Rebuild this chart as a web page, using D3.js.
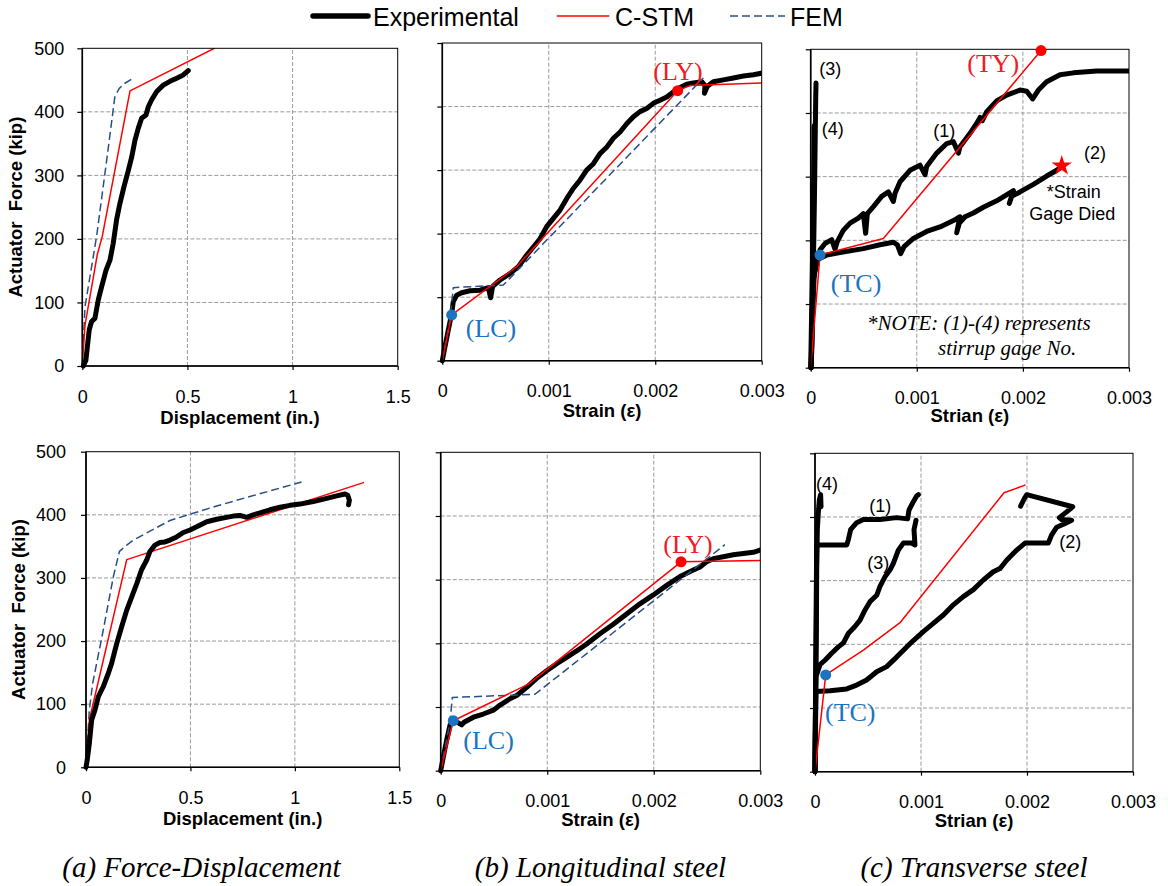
<!DOCTYPE html>
<html><head><meta charset="utf-8">
<script src="https://cdn.jsdelivr.net/npm/d3@7"></script>
<style>body{margin:0;background:#fff}</style>
</head><body>
<svg id="c" width="1168" height="886"></svg>
<script>
// ---------------- DATA ----------------
const yTickVals = [0,100,200,300,400,500];
const yTickText = ["0","100","200","300","400","500"];
const dispTickVals = [0,0.5,1,1.5];
const dispTickText = ["0","0.5","1","1.5"];
const strainTickVals = [0,0.001,0.002,0.003];
const strainTickText = ["0","0.001","0.002","0.003"];
const legendLabels = ["Experimental","C-STM","FEM"];
const captions = ["(a) Force-Displacement","(b) Longitudinal steel","(c) Transverse steel"];

// (a) Force-displacement, top specimen
const dispTopExp = [[0.005,0],[0.017,9],[0.024,30],[0.033,57],[0.044,70],[0.06,75],[0.076,104],[0.092,125],[0.113,151],[0.132,167],[0.147,193],[0.163,230],[0.179,256],[0.198,282],[0.219,308],[0.235,329],[0.251,356],[0.266,374],[0.282,390],[0.303,395],[0.314,408],[0.33,419],[0.354,432],[0.385,442],[0.417,448],[0.449,453],[0.48,458],[0.504,465]];
const dispTopCSTM = [[0,0],[0.0127,64],[0.071,175],[0.095,204],[0.227,433],[0.628,500]];
const dispTopFEM = [[0,0],[0.0127,93],[0.068,204],[0.116,324],[0.155,424],[0.176,437],[0.203,445],[0.246,454]];
// (a) bottom specimen
const dispBotExp = [[0,0],[0.006,12],[0.016,38],[0.027,75],[0.043,91],[0.059,112],[0.083,128],[0.107,149],[0.123,165],[0.147,196],[0.171,223],[0.195,249],[0.219,270],[0.243,291],[0.266,313],[0.29,328],[0.306,342],[0.33,352],[0.354,356],[0.378,357],[0.402,360],[0.434,365],[0.466,372],[0.498,376],[0.53,381],[0.578,389],[0.626,393],[0.673,396],[0.705,398],[0.737,399],[0.769,396],[0.801,400],[0.833,403],[0.881,408],[0.929,412],[0.977,415],[1.024,417],[1.088,421],[1.152,426],[1.2,430],[1.24,433],[1.253,431],[1.261,423],[1.257,416]];
const dispBotCSTM = [[0,0],[0.016,75],[0.195,329],[1.328,451]];
const dispBotFEM = [[0,0],[0.016,91],[0.032,133],[0.083,218],[0.131,302],[0.16,342],[0.195,352],[0.227,360],[0.322,377],[0.402,391],[0.498,401],[0.626,414],[0.785,429],[1.032,452]];

// (b) Longitudinal steel, top
const longTopExp = [[0,0],[0.000025,22],[0.000056,48],[0.000088,74],[0.000103,93],[0.000135,103],[0.000182,107],[0.00026,110],[0.000354,111],[0.000432,115],[0.000454,99],[0.000473,117],[0.000542,127],[0.000636,137],[0.000714,148],[0.000792,166],[0.000855,179],[0.000918,192],[0.00098,211],[0.001043,224],[0.001106,237],[0.001168,255],[0.00123,271],[0.001293,284],[0.001356,300],[0.001419,310],[0.001481,326],[0.001544,336],[0.001607,350],[0.00167,360],[0.001732,373],[0.001795,384],[0.001857,392],[0.00192,397],[0.001982,405],[0.002045,410],[0.002108,415],[0.00217,423],[0.002233,430],[0.002296,435],[0.002358,437],[0.002437,439],[0.002468,433],[0.002462,421],[0.00249,432],[0.002546,439],[0.00264,442],[0.002734,445],[0.002828,448],[0.002922,450],[0.003016,453]];
const longTopCSTM = [[0,0],[0.0000883,72],[0.000698,148],[0.002211,425],[0.002327,433],[0.003,437]];
const longTopFEM = [[0,0],[0.000072,64],[0.000103,115],[0.000573,119],[0.002452,445]];
const longTopLC = [0.0000883,72];
const longTopLY = [0.002211,425];
// (b) bottom
const longBotExp = [[0,0],[0.000025,22],[0.000056,48],[0.000088,72],[0.000125,79],[0.000166,75],[0.000197,72],[0.000219,76],[0.000307,84],[0.0004,89],[0.000494,95],[0.000557,103],[0.00065,113],[0.000713,118],[0.000807,131],[0.000901,145],[0.000995,157],[0.001089,168],[0.001182,178],[0.001276,188],[0.00137,199],[0.001495,215],[0.00162,230],[0.001745,246],[0.00187,262],[0.001996,276],[0.002121,291],[0.002246,305],[0.002371,315],[0.002434,320],[0.002496,328],[0.002559,333],[0.002652,336],[0.002746,339],[0.00284,341],[0.002934,343],[0.003012,347]];
const longBotCSTM = [[0,0],[0.000118,78.5],[0.000823,136],[0.002256,328],[0.003,330]];
const longBotFEM = [[0,0],[0.000088,77],[0.000109,115],[0.000885,120],[0.002668,355]];
const longBotLC = [0.000118,78.5];
const longBotLY = [0.002256,328];

// (c) Transverse steel, top (gages 1-4)
const transTopGage1 = [[0.000005,0],[0.00002,100],[0.000025,138],[0.000057,164],[0.000088,185],[0.000135,195],[0.000198,201],[0.000229,186],[0.000251,198],[0.000308,216],[0.000371,227],[0.000449,235],[0.000496,242],[0.000518,211],[0.000534,242],[0.000591,253],[0.000669,269],[0.000732,276],[0.000779,261],[0.000795,274],[0.000842,292],[0.000936,310],[0.00103,318],[0.001078,303],[0.001093,316],[0.001188,337],[0.001282,352],[0.001345,355],[0.001392,337],[0.001407,347],[0.001502,368],[0.001565,384],[0.001596,393],[0.001618,388],[0.001659,402],[0.001753,419],[0.001847,428],[0.001973,436],[0.002036,434],[0.002092,422],[0.002146,436],[0.002224,449],[0.00235,460],[0.002476,463],[0.002696,466],[0.003,466]];
const transTopGage2 = [[0.000005,0],[0.00002,100],[0.000035,150],[0.000057,169],[0.000151,177],[0.000276,181],[0.000496,187],[0.000653,193],[0.000779,197],[0.000817,193],[0.000848,179],[0.00088,190],[0.000968,203],[0.001093,214],[0.001219,221],[0.001345,231],[0.001407,237],[0.001376,212],[0.001401,227],[0.001455,237],[0.001533,243],[0.001627,252],[0.001753,262],[0.00188,275],[0.001911,278],[0.001872,258],[0.001894,269],[0.001973,276],[0.002099,288],[0.002224,301],[0.002319,310],[0.002366,316]];
const transTopGage3 = [[0.000003,0],[0.000016,80],[0.000025,159],[0.000035,263],[0.000041,342],[0.000047,420],[0.00005,447]];
const transTopGage4 = [[0,0],[0.00001,100],[0.00002,200],[0.000028,300],[0.000033,380]];
const transTopCSTM = [[0,0],[0.0000877,177],[0.000685,203],[0.002171,498]];
const transTopTC = [0.0000877,177];
const transTopTY = [0.002171,498];
const transTopGageDied = [0.002366,317];
// (c) bottom
const transBotGage1 = [[0,0],[0.000008,200],[0.000016,356],[0.000299,356],[0.000314,364],[0.000336,380],[0.000393,391],[0.000456,396],[0.000613,396],[0.00077,399],[0.000874,397],[0.000887,411],[0.000928,424],[0.000959,433],[0.000975,435]];
const transBotGage2 = [[0,0],[0.000009,126],[0.000142,127],[0.000299,130],[0.000393,136],[0.000487,144],[0.000582,157],[0.000676,165],[0.00077,180],[0.000865,196],[0.000928,206],[0.001022,220],[0.001116,233],[0.001211,246],[0.001305,262],[0.001399,275],[0.001494,286],[0.001588,301],[0.001682,314],[0.001745,319],[0.001808,332],[0.001903,348],[0.001981,359],[0.002091,359],[0.002201,359],[0.002233,372],[0.00228,384],[0.002349,389],[0.002421,395],[0.002327,396],[0.002305,399],[0.002374,408],[0.002431,416],[0.001997,435],[0.001975,429],[0.00194,417]];
const transBotGage3 = [[0,0],[0.000005,100],[0.000009,149],[0.000047,168],[0.000094,175],[0.000157,186],[0.00022,196],[0.000267,202],[0.000314,217],[0.000377,228],[0.000425,238],[0.000472,254],[0.000519,267],[0.000582,277],[0.000613,291],[0.00066,306],[0.000708,317],[0.000739,327],[0.000786,348],[0.000833,359],[0.000912,359],[0.000943,356],[0.000934,380],[0.000953,395]];
const transBotGage4 = [[0,0],[0.000006,118],[0.000013,223],[0.000016,317],[0.000022,380],[0.000031,406],[0.000041,427],[0.000053,435],[0.000057,416]];
const transBotCSTM = [[0,0],[0.000101,152],[0.000456,191],[0.000802,234],[0.001783,438],[0.001981,450]];
const transBotTC = [0.000101,152];

// ---------------- DRAWING ----------------
const SANS = "'Liberation Sans', Arial, Helvetica, sans-serif";
const SERIF = "'Liberation Serif', 'Times New Roman', serif";
const RED = "#ff0000", RED_TXT = "#f01c24", BLUE = "#1a74c2", FEMC = "#274f85";

const svg = d3.select("#c");
svg.append("rect").attr("width",1168).attr("height",886).attr("fill","#fff");

const styles = {
  exp: {stroke:"#000", "stroke-width":5, dash:null},
  cstm: {stroke:RED, "stroke-width":1.5, dash:null},
  fem: {stroke:FEMC, "stroke-width":1.5, dash:"8,4"}
};

let clipN = 0;
function panel(o){
  const L = o.box;
  const x = d3.scaleLinear().domain([0,o.xMax]).range([L.x0,L.x1]);
  const y = d3.scaleLinear().domain([0,500]).range([L.y0,L.y1]);
  const g = svg.append("g");
  // grid
  g.selectAll("line.vg").data(o.xTicks.slice(1,-1)).join("line")
    .attr("x1",d=>x(d)).attr("x2",d=>x(d)).attr("y1",y(0)).attr("y2",y(500))
    .attr("stroke","#9a9a9a").attr("stroke-width",1).attr("stroke-dasharray","4,2");
  g.selectAll("line.hg").data(yTickVals.slice(1,-1)).join("line")
    .attr("x1",x(0)).attr("x2",x(o.xMax)).attr("y1",d=>y(d)).attr("y2",d=>y(d))
    .attr("stroke","#9a9a9a").attr("stroke-width",1).attr("stroke-dasharray","4,2");
  // clip
  const cid = "clip"+(clipN++);
  svg.append("clipPath").attr("id",cid).append("rect")
    .attr("x",L.x0-4).attr("y",L.y1).attr("width",L.x1-L.x0+4).attr("height",L.y0-L.y1+4);
  const line = d3.line().x(d=>x(d[0])).y(d=>y(d[1]));
  o.series.forEach(s=>{
    const st = styles[s.type];
    const p = g.append("path").datum(s.data).attr("d",line).attr("fill","none")
      .attr("stroke",st.stroke).attr("stroke-width",st["stroke-width"])
      .attr("stroke-linejoin","round").attr("stroke-linecap","round")
      .attr("clip-path",`url(#${cid})`);
    if(st.dash) p.attr("stroke-dasharray",st.dash).attr("stroke-linecap","butt");
  });
  // frame
  g.append("rect").attr("x",L.x0).attr("y",L.y1).attr("width",L.x1-L.x0).attr("height",L.y0-L.y1)
    .attr("fill","none").attr("stroke","#000").attr("stroke-width",1);
  g.append("line").attr("x1",L.x0).attr("x2",L.x0).attr("y1",L.y1).attr("y2",L.y0+0.5).attr("stroke","#000").attr("stroke-width",1.6);
  g.append("line").attr("x1",L.x0).attr("x2",L.x1).attr("y1",L.y0).attr("y2",L.y0).attr("stroke","#000").attr("stroke-width",1.6);
  // axes
  const ya = g.append("g").attr("transform",`translate(${L.x0},0)`)
    .call(d3.axisLeft(y).tickValues(yTickVals).tickSize(5).tickSizeOuter(0).tickPadding(o.yPad||13)
      .tickFormat((d,i)=> o.yLabels ? yTickText[i] : ""));
  ya.select(".domain").remove();
  ya.selectAll("line").attr("stroke","#000").attr("stroke-width",1.2);
  ya.selectAll("text").attr("font-size",18).attr("font-family",SANS).attr("fill","#000");
  const xa = g.append("g").attr("transform",`translate(0,${L.y0})`)
    .call(d3.axisBottom(x).tickValues(o.xTicks).tickSize(4).tickSizeOuter(0).tickPadding(20)
      .tickFormat((d,i)=>o.xText[i]));
  xa.select(".domain").remove();
  xa.selectAll("line").attr("stroke","#000").attr("stroke-width",1.2);
  xa.selectAll("text").attr("font-size",18).attr("font-family",SANS).attr("fill","#000");
  // x title
  g.append("text").attr("x",(L.x0+L.x1)/2).attr("y",L.y0+o.xTitleDy).attr("text-anchor","middle")
    .attr("font-family",SANS).attr("font-weight","bold").attr("font-size",18.5).text(o.xTitle);
  if(o.yTitle){
    g.append("text").attr("transform",`translate(${o.yTitleX},${(L.y0+L.y1)/2}) rotate(-90)`)
      .attr("text-anchor","middle").attr("font-family",SANS).attr("font-weight","bold")
      .attr("font-size",18.5).text("Actuator\u00a0 Force (kip)");
  }
  // annotations
  (o.notes||[]).forEach(n=>{
    g.append("text").attr("x",x(n.at[0])).attr("y",y(n.at[1]))
      .attr("font-family",n.font).attr("font-size",n.size).attr("fill",n.color||"#000")
      .attr("font-style",n.italic?"italic":"normal").text(n.text);
  });
  (o.dots||[]).forEach(d=>{
    g.append("circle").attr("cx",x(d.at[0])).attr("cy",y(d.at[1])).attr("r",5.5).attr("fill",d.color);
  });
  (o.stars||[]).forEach(d=>{
    g.append("path").attr("transform",`translate(${x(d[0])},${y(d[1])})`)
      .attr("d",d3.symbol().type(d3.symbolStar).size(130)()).attr("fill",RED);
  });
}

const gauge = (t,at)=>({text:t,at,font:SANS,size:18});
const tag = (t,at,color)=>({text:t,at,font:SERIF,size:26,color});

panel({box:{x0:82.3,x1:397.7,y0:366,y1:48.3}, xMax:1.5, xTicks:dispTickVals, xText:dispTickText,
  yLabels:true, yTitle:true, yTitleX:22, xTitle:"Displacement (in.)", xTitleDy:58,
  series:[{type:"fem",data:dispTopFEM},{type:"cstm",data:dispTopCSTM},{type:"exp",data:dispTopExp}]});
panel({box:{x0:86,x1:399.3,y0:767.3,y1:451.7}, xMax:1.5, xTicks:dispTickVals, xText:dispTickText,
  yLabels:true, yTitle:true, yTitleX:25, yPad:15, xTitle:"Displacement (in.)", xTitleDy:58,
  series:[{type:"fem",data:dispBotFEM},{type:"cstm",data:dispBotCSTM},{type:"exp",data:dispBotExp}]});

panel({box:{x0:442.3,x1:761.7,y0:360.7,y1:43}, xMax:0.003, xTicks:strainTickVals, xText:strainTickText,
  yLabels:false, xTitle:"Strain (\u03b5)", xTitleDy:56,
  series:[{type:"exp",data:longTopExp},{type:"fem",data:longTopFEM},{type:"cstm",data:longTopCSTM}],
  notes:[tag("(LY)",[0.001982,441.8],RED_TXT), tag("(LC)",[0.00022,37.8],BLUE)],
  dots:[{at:longTopLC,color:BLUE},{at:longTopLY,color:RED}]});
panel({box:{x0:440.7,x1:760.3,y0:770.7,y1:452.3}, xMax:0.003, xTicks:strainTickVals, xText:strainTickText,
  yLabels:false, xTitle:"Strain (\u03b5)", xTitleDy:55,
  series:[{type:"exp",data:longBotExp},{type:"fem",data:longBotFEM},{type:"cstm",data:longBotCSTM}],
  notes:[tag("(LY)",[0.002089,341.4],RED_TXT), tag("(LC)",[0.000212,33.6],BLUE)],
  dots:[{at:longBotLC,color:BLUE},{at:longBotLY,color:RED}]});

panel({box:{x0:810.7,x1:1129,y0:367.7,y1:49.3}, xMax:0.003, xTicks:strainTickVals, xText:strainTickText,
  yLabels:false, xTitle:"Strian (\u03b5)", xTitleDy:54,
  series:[{type:"exp",data:transTopGage4},{type:"exp",data:transTopGage3},{type:"exp",data:transTopGage2},
          {type:"exp",data:transTopGage1},{type:"cstm",data:transTopCSTM}],
  notes:[gauge("(3)",[0.000081,459.6]), gauge("(4)",[0.000104,365.4]), gauge("(1)",[0.001155,362.8]),
         gauge("(2)",[0.002576,327.3]), gauge("*Strain",[0.002224,266]), gauge("Gage Died",[0.00206,231.9]),
         tag("(TY)",[0.001476,464.8],RED_TXT), tag("(TC)",[0.000189,119.3],BLUE),
         {text:"*NOTE: (1)-(4) represents",at:[0.000531,59.2],font:SERIF,size:21,italic:true},
         {text:"stirrup gage No.",at:[0.0012,19.9],font:SERIF,size:21,italic:true}],
  dots:[{at:transTopTC,color:BLUE},{at:transTopTY,color:RED}],
  stars:[transTopGageDied]});
panel({box:{x0:815,x1:1133,y0:771.7,y1:453.3}, xMax:0.003, xTicks:strainTickVals, xText:strainTickText,
  yLabels:false, xTitle:"Strian (\u03b5)", xTitleDy:55,
  series:[{type:"exp",data:transBotGage4},{type:"exp",data:transBotGage3},{type:"exp",data:transBotGage2},
          {type:"exp",data:transBotGage1},{type:"cstm",data:transBotCSTM}],
  notes:[gauge("(4)",[0.0000094,442.4]), gauge("(1)",[0.000512,408.3]), gauge("(3)",[0.000493,317.8]),
         gauge("(2)",[0.002305,350.8]), tag("(TC)",[0.0000943,80.1],BLUE)],
  dots:[{at:transBotTC,color:BLUE}]});

// legend
const leg = svg.append("g");
const legItems = [
  {x1:313,x2:368,tx:373,st:styles.exp,w:5.5},
  {x1:556.7,x2:609.3,tx:615,st:styles.cstm,w:1.5},
  {x1:730,x2:785,tx:790,st:styles.fem,w:1.5}
];
legItems.forEach((it,i)=>{
  const l = leg.append("line").attr("x1",it.x1).attr("x2",it.x2).attr("y1",16).attr("y2",16)
    .attr("stroke",it.st.stroke).attr("stroke-width",it.w).attr("stroke-linecap",i===0?"round":"butt");
  if(it.st.dash) l.attr("stroke-dasharray",it.st.dash);
  leg.append("text").attr("x",it.tx).attr("y",26).attr("font-family",SANS).attr("font-size",25)
    .text(legendLabels[i]);
});

// captions
[201.5,600.5,974].forEach((cx,i)=>{
  svg.append("text").attr("x",cx).attr("y",877).attr("text-anchor","middle")
    .attr("font-family",SERIF).attr("font-style","italic").attr("font-size",29).text(captions[i]);
});
</script>
</body></html>
